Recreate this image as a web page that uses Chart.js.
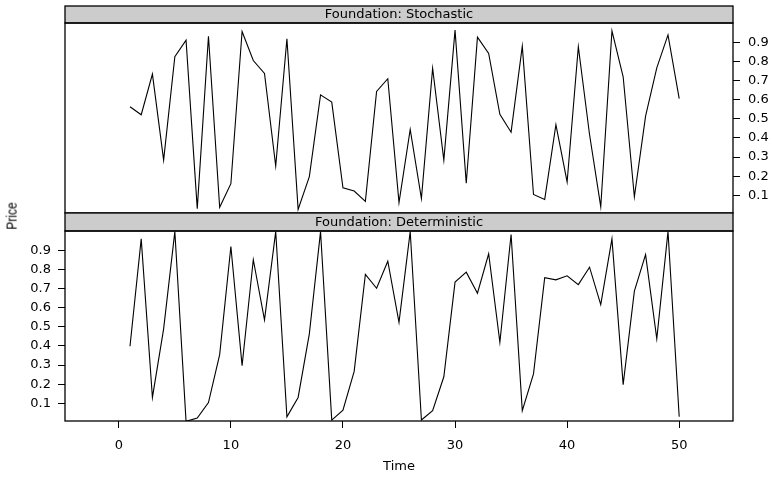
<!DOCTYPE html>
<html>
<head>
<meta charset="utf-8">
<script src="https://cdn.jsdelivr.net/npm/chart.js@4"></script>
<style>
  body { margin: 0; background: #fff; }
  #wrap { position: relative; width: 775px; height: 480px; }
  .box { position: absolute; left: 0; width: 775px; }
  #ylab { position: absolute; left: 12px; top: 216px; font: 12px 'Liberation Sans', Arial, sans-serif; color: #000;
          transform: translate(-50%, -50%) rotate(-90deg) scaleY(1.2); white-space: nowrap; }
</style>
</head>
<body>
<div id="wrap">
  <div class="box" style="top:0;height:215px"><canvas id="topChart"></canvas></div>
  <div class="box" style="top:212px;height:268px"><canvas id="bottomChart"></canvas></div>
  <div id="ylab">Price</div>
</div>
<script>
// panel data
var time = [1,2,3,4,5,6,7,8,9,10,11,12,13,14,15,16,17,18,19,20,21,22,23,24,25,
            26,27,28,29,30,31,32,33,34,35,36,37,38,39,40,41,42,43,44,45,46,47,48,49,50];

var stochastic = [0.563,0.521,0.733,0.284,0.824,0.910,0.031,0.931,0.038,0.161,
                  0.956,0.804,0.737,0.253,0.918,0.027,0.198,0.625,0.587,0.140,
                  0.123,0.069,0.643,0.709,0.062,0.444,0.083,0.764,0.284,0.963,
                  0.163,0.926,0.841,0.523,0.430,0.879,0.105,0.079,0.469,0.170,
                  0.876,0.418,0.041,0.959,0.719,0.093,0.514,0.766,0.938,0.605];

var deterministic = [0.398,0.959,0.131,0.489,0.997,0.006,0.023,0.104,0.355,0.919,
                     0.297,0.850,0.536,0.997,0.030,0.131,0.463,0.997,0.013,0.065,
                     0.267,0.773,0.701,0.842,0.523,0.997,0.013,0.062,0.239,0.733,
                     0.785,0.675,0.881,0.419,0.982,0.062,0.254,0.756,0.745,0.766,
                     0.720,0.811,0.616,0.959,0.198,0.686,0.877,0.437,0.997,0.030];

var xTicks = [0, 10, 20, 30, 40, 50];
var yTicks = [0.1, 0.2, 0.3, 0.4, 0.5, 0.6, 0.7, 0.8, 0.9];

var FONT = "'DejaVu Sans', sans-serif";
Chart.defaults.font.family = FONT;
Chart.defaults.font.size = 13;
Chart.defaults.color = '#000';

// grey strip above the panel + black frame around it
var stripPlugin = {
  id: 'strip',
  afterDraw: function(chart, args, opts) {
    var a = chart.chartArea, ctx = chart.ctx;
    var h = opts.height;
    ctx.save();
    ctx.fillStyle = '#cccccc';
    ctx.fillRect(a.left, a.top - h, a.right - a.left, h);
    ctx.strokeStyle = '#000';
    ctx.lineWidth = 1.3;
    ctx.strokeRect(a.left, a.top - h, a.right - a.left, h);
    ctx.strokeRect(a.left, a.top, a.right - a.left, a.bottom - a.top);
    ctx.fillStyle = '#000';
    ctx.font = '13px ' + FONT;
    ctx.textAlign = 'center';
    ctx.textBaseline = 'middle';
    ctx.fillText(opts.text, (a.left + a.right) / 2, a.top - h / 2 + 0.5);
    ctx.restore();
  }
};

function makeData(values) {
  return {
    labels: time,
    datasets: [{
      data: time.map(function(t, i) { return { x: t, y: values[i] }; }),
      borderColor: '#000',
      borderWidth: 1.1,
      pointRadius: 0,
      tension: 0,
      fill: false
    }]
  };
}

function yAxis(position, width, pad) {
  return {
    type: 'linear',
    position: position,
    min: 0.008,
    max: 1.0,
    afterBuildTicks: function(axis) { axis.ticks = yTicks.map(function(v) { return { value: v }; }); },
    afterFit: function(axis) {
      axis.width = width;
      axis.paddingTop = 0;
      axis.paddingBottom = 0;
    },
    grid: { drawOnChartArea: false, tickLength: 7, tickColor: '#000', tickWidth: 1 },
    border: { display: false },
    ticks: { padding: pad, color: '#000' }
  };
}

var xBase = {
  type: 'linear',
  min: -4.8,
  max: 54.8,
  afterBuildTicks: function(axis) { axis.ticks = xTicks.map(function(v) { return { value: v }; }); }
};

new Chart(document.getElementById('topChart'), {
  type: 'line',
  data: makeData(stochastic),
  options: {
    responsive: true,
    maintainAspectRatio: false,
    animation: false,
    layout: { padding: { left: 65, top: 23, right: 0, bottom: 2 } },
    plugins: {
      legend: { display: false },
      tooltip: { enabled: false },
      strip: { text: 'Foundation: Stochastic', height: 17 }
    },
    scales: {
      x: Object.assign({}, xBase, { display: false }),
      y: yAxis('right', 42, 8)
    }
  },
  plugins: [stripPlugin]
});

new Chart(document.getElementById('bottomChart'), {
  type: 'line',
  data: makeData(deterministic),
  options: {
    responsive: true,
    maintainAspectRatio: false,
    animation: false,
    layout: { padding: { left: 0, top: 19, right: 42, bottom: 0 } },
    plugins: {
      legend: { display: false },
      tooltip: { enabled: false },
      strip: { text: 'Foundation: Deterministic', height: 18 }
    },
    scales: {
      x: Object.assign({}, xBase, {
        afterFit: function(axis) { axis.height = 59; },
        grid: { drawOnChartArea: false, tickLength: 7, tickColor: '#000', tickWidth: 1 },
        border: { display: false },
        ticks: { padding: 10, maxRotation: 0, color: '#000' },
        title: { display: true, text: 'Time', color: '#000', padding: { top: 0, bottom: 6 } }
      }),
      y: yAxis('left', 65, 7)
    }
  },
  plugins: [stripPlugin]
});
</script>
</body>
</html>
